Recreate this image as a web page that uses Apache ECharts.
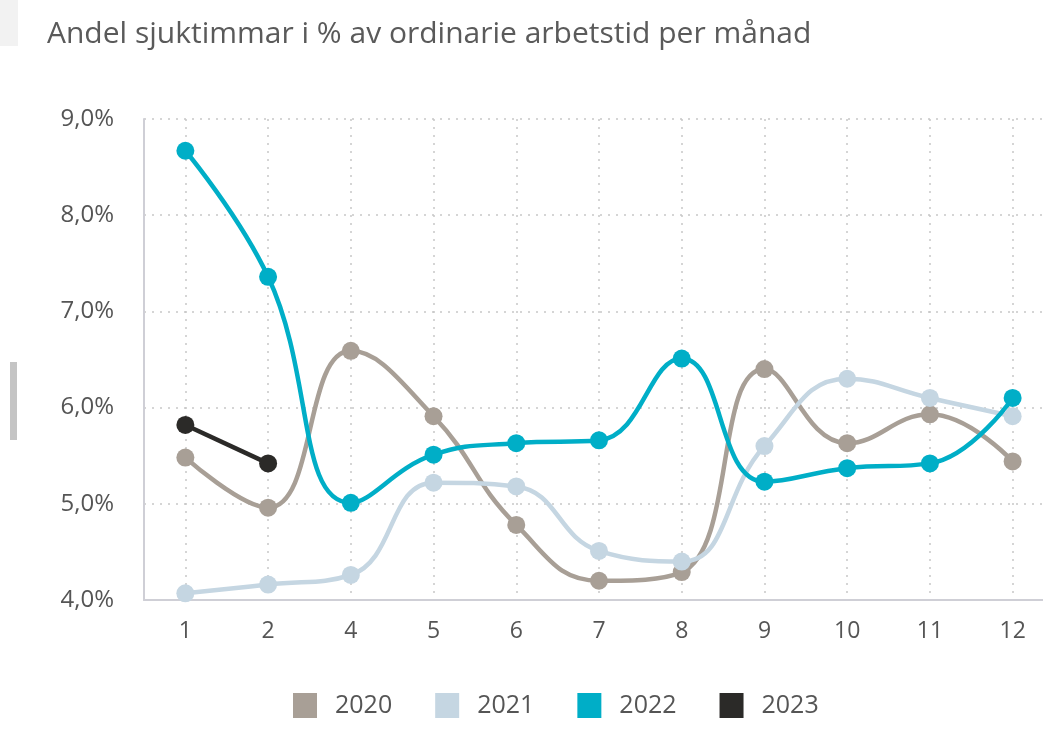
<!DOCTYPE html>
<html><head><meta charset="utf-8">
<script src="https://cdn.jsdelivr.net/npm/echarts@6/dist/echarts.min.js"></script>
<style>html,body{margin:0;padding:0;background:#fff;overflow:hidden;width:1043px;height:753px}#c{width:1080px;height:753px}</style>
</head><body><div id="c"></div>
<script>
const months = ['1','2','4','5','6','7','8','9','10','11','12'];
const s2020 = [5.48,4.96,6.59,5.91,4.78,4.20,4.29,6.40,5.63,5.93,5.44];
const s2021 = [4.07,4.16,4.26,5.22,5.18,4.51,4.40,5.60,6.30,6.10,5.91];
const s2022 = [8.67,7.36,5.01,5.51,5.63,5.66,6.51,5.23,5.37,5.42,6.10];
const s2023 = [5.82,5.42];
const names = ['2020','2021','2022','2023'];
const colors = ['#a89f96','#c5d6e2','#00aec7','#2b2a28'];
const chart = echarts.init(document.getElementById('c'));
function mk(name, data, color){
  return {name, type:'line', data, smooth:0.45, symbol:'circle', symbolSize:18,
    lineStyle:{width:4.5,color}, itemStyle:{color}, emphasis:{disabled:true}};
}
chart.setOption({
  animation:false,
  title:{text:'Andel sjuktimmar i % av ordinarie arbetstid per månad', left:42, top:14,
    textStyle:{fontFamily:'Open Sans', fontSize:30, fontWeight:'normal', color:'#5a5a5a'}},
  graphic:[
    {type:'rect', shape:{x:0,y:0,width:18,height:46}, style:{fill:'#f2f2f2'}},
    {type:'rect', shape:{x:10,y:362,width:7,height:78}, style:{fill:'#c4c4c4'}}
  ],
  legend:{data:names, top:688, left:288, itemWidth:24, itemHeight:25, itemGap:43, icon:'rect',
    textStyle:{fontFamily:'Open Sans', fontSize:25, color:'#555', padding:[0,0,0,13]}},
  color:colors,
  grid:{left:144, top:119, right:26, height:481},
  xAxis:{type:'category', data:months, boundaryGap:true,
    axisLine:{lineStyle:{color:'#cfcfd6', width:2}},
    axisTick:{show:false},
    axisLabel:{fontFamily:'Open Sans', fontSize:23, color:'#555', margin:20},
    splitLine:{show:true, alignWithLabel:true, lineStyle:{type:[2,6], color:'#c8c8c8', width:1.5}}},
  yAxis:{type:'value', min:4, max:9, interval:1,
    axisLine:{show:true, lineStyle:{color:'#cfcfd6', width:2}},
    axisTick:{show:false},
    axisLabel:{fontFamily:'Open Sans', fontSize:24, color:'#555', margin:30,
      formatter:v=>v.toFixed(1).replace('.',',')+'%'},
    splitLine:{lineStyle:{type:[2,6], color:'#c8c8c8', width:1.5}}},
  series:[mk('2020',s2020,colors[0]), mk('2021',s2021,colors[1]), mk('2022',s2022,colors[2]), mk('2023',s2023,colors[3])]
});
</script></body></html>
